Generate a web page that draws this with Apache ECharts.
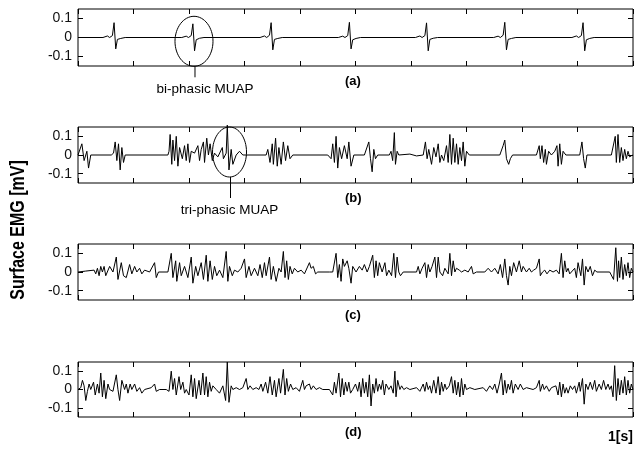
<!DOCTYPE html>
<html>
<head>
<meta charset="utf-8">
<script src="https://cdn.jsdelivr.net/npm/echarts@6/dist/echarts.min.js"></script>
<style>
  html, body { margin: 0; padding: 0; background: #fff; }
  #main { width: 641px; height: 450px; }
</style>
</head>
<body>
<div id="main"></div>
<script>
// time in ms (0..1000 = 1 s), amplitude in mV
const aT = [0, 45, 53, 57, 62, 65, 68, 71, 77, 85,
  187, 195, 199, 204, 207, 210, 213, 219, 227,
  328, 336, 340, 345, 348, 351, 354, 360, 368,
  469, 477, 481, 486, 489, 492, 495, 501, 509,
  608, 616, 620, 625, 628, 631, 634, 640, 648,
  749, 757, 761, 766, 769, 772, 775, 781, 789,
  890, 898, 902, 907, 910, 913, 916, 922, 930, 1000]
const aV = [0, 0, 0.008, 0, 0.01, 0.078, -0.06, -0.01, -0.005, 0,
  0, 0.007, 0, 0.01, 0.072, -0.07, -0.012, -0.004, 0,
  0, 0.008, 0, 0.012, 0.078, -0.065, -0.01, -0.005, 0,
  0, 0.007, 0, 0.01, 0.08, -0.06, -0.012, -0.005, 0,
  0, 0.008, 0, 0.01, 0.077, -0.07, -0.01, -0.004, 0,
  0, 0.007, 0, 0.012, 0.08, -0.065, -0.01, -0.005, 0,
  0, 0.008, 0, 0.01, 0.078, -0.07, -0.012, -0.005, 0, 0]

const bT = [0, 7, 11, 16, 19, 23, 60, 64, 67, 70, 73, 76, 79, 82, 85,
  162, 164, 166, 169, 171, 174, 177, 180, 183, 188, 192, 195, 198, 201, 204, 210, 216, 219, 222, 226, 228, 232, 235, 238, 242, 246,
  252, 260, 262, 267, 269, 272, 276, 279, 285, 291, 297,
  339, 342, 346, 350, 352, 356, 359, 362, 366, 370, 374, 378, 382, 387,
  450, 453, 456, 459, 462, 465, 468, 471, 475, 480, 485, 488, 492, 497,
  516, 519, 524, 527, 530, 533, 536, 540, 561, 564, 567, 570, 572, 575, 578, 598, 610,
  622, 626, 629, 632, 637, 641, 645, 649, 652, 655, 659, 664, 667, 670, 673, 676, 679, 682, 685, 688, 691, 694, 697, 700, 705,
  760, 763, 766, 769, 772, 776, 779, 783,
  826, 831, 833, 836, 839, 842, 844, 848, 853, 859, 863, 865, 868, 871, 874, 879,
  904, 908, 911, 914, 917, 961, 964, 968, 970, 973, 976, 979, 982, 985, 988, 991, 994, 999, 1000]
const bV = [0, 0.06, -0.03, 0.02, -0.07, 0, 0, 0.01, 0.07, -0.03, 0.06, -0.08, 0.04, -0.04, 0,
  0, 0.02, 0.11, -0.05, 0.08, -0.03, 0.1, -0.06, 0.04, -0.02, 0.05, -0.03, 0.06, -0.04, 0.02, 0.01, 0.05, -0.03, 0.03, 0.07, -0.04, 0.09, 0, 0.06, -0.03, 0.01,
  -0.01, 0.04, -0.02, 0.01, 0.16, -0.08, 0.03, -0.05, 0, 0.02, 0,
  0, 0.03, -0.04, 0.06, -0.05, 0.09, -0.06, 0.04, -0.05, 0.07, -0.03, 0.05, -0.02, 0,
  0, 0.01, -0.02, 0.06, -0.04, 0.1, -0.07, 0.04, -0.02, 0.05, -0.02, 0.07, -0.06, 0,
  0, 0.01, 0.07, -0.02, -0.09, 0.03, -0.02, 0, 0, 0.02, -0.03, 0.12, -0.05, 0.02, 0, 0.005, -0.005,
  0, 0.07, -0.02, 0.03, -0.05, 0.04, -0.01, 0.06, -0.04, 0, -0.03, 0.05, -0.04, 0.11, -0.05, 0.09, -0.04, 0.06, -0.05, 0.04, -0.03, 0.07, -0.06, 0.02, 0,
  0, 0.01, 0.05, 0.08, -0.02, -0.05, -0.02, 0,
  0, 0.05, -0.02, 0.05, -0.04, 0.03, -0.05, 0.02, 0, 0.02, 0.05, -0.06, 0.06, -0.05, 0.02, 0,
  0, 0.07, -0.02, -0.07, 0, 0, 0.01, 0.1, -0.04, 0.11, -0.04, 0.04, -0.03, 0.03, -0.02, 0.02, -0.01, 0, 0]

const cT = [0, 14, 29, 32, 35, 38, 41, 44, 47, 50, 57, 63, 69, 72, 78, 82, 87, 93, 97, 102, 106, 111, 115, 120, 129, 138, 141, 145,
  162, 168, 171, 176, 178, 183, 186, 192, 198, 204, 207, 212, 216, 222, 226, 231, 234, 238, 242, 246, 250, 255, 261, 267, 270, 273, 278, 282, 288, 294,
  300, 303, 308, 312, 318, 324, 328, 332, 336, 339, 345, 348, 352, 357, 362, 366, 370, 373, 376, 379, 382, 386, 390, 396, 402, 408, 417, 420, 424, 428, 432, 453,
  459, 465, 468, 471, 474, 477, 480, 485, 488, 492, 495, 501, 507, 512, 516, 521, 525, 531, 534, 537, 540, 543, 548, 553, 556, 560, 565, 569, 572, 575, 578, 581, 586,
  610, 613, 616, 620, 625, 628, 631, 634, 638, 643, 646, 649, 652, 657, 661, 667, 670, 673, 676, 679, 682, 687, 691, 697, 703, 709, 712, 718,
  733, 739, 745, 751, 757, 761, 765, 769, 772, 775, 778, 781, 785, 790, 795, 799, 802, 808, 813, 817, 821, 826, 831, 833, 837, 841, 845, 850, 856,
  862, 867, 871, 874, 877, 880, 883, 886, 889, 895, 898, 901, 906, 909, 912, 915, 919, 923, 927, 931, 935,
  958, 961, 965, 969, 972, 974, 976, 979, 982, 985, 988, 991, 994, 997, 1000]
const cV = [0, 0.005, 0.01, -0.01, 0.02, -0.02, 0.03, 0, 0.03, -0.02, 0.03, 0, 0.08, -0.04, 0.05, -0.02, -0.03, 0.04, -0.01, 0.03, 0, 0.02, -0.01, 0.01, 0, 0.05, -0.03, 0,
  0, 0.1, -0.03, 0.06, -0.05, 0.05, -0.02, 0.03, -0.03, 0.08, -0.06, 0.03, -0.02, 0.05, -0.04, 0.09, -0.05, 0.06, -0.04, 0.03, -0.02, 0.01, -0.03, 0.11, -0.05, 0.03, -0.02, 0.01, 0, 0.02,
  0.07, -0.03, 0.03, -0.02, 0.02, -0.02, 0.04, -0.03, 0.05, -0.02, 0.08, -0.04, 0.03, -0.05, 0.02, 0, 0.11, -0.03, 0.06, -0.04, 0.03, -0.01, 0.02, 0, 0.01, -0.01, 0.05, 0.02, 0.03, -0.01, 0, 0,
  0, 0.1, -0.03, 0.04, -0.05, 0.07, 0.03, 0.06, 0.02, -0.06, 0.03, 0, 0.03, 0.01, 0.04, 0, 0.03, 0.09, -0.03, 0.06, -0.02, 0.05, 0, 0.05, -0.02, 0.01, -0.02, 0.1, -0.03, 0.08, 0, -0.02, 0,
  0, 0.03, -0.01, 0.02, 0.05, -0.03, 0.04, 0, 0.03, 0.08, -0.03, 0.08, 0, -0.02, 0.02, -0.01, 0.1, -0.02, 0.06, 0, 0.02, 0.01, 0, 0.01, 0, 0.03, -0.01, 0,
  0, 0.02, 0, 0.02, -0.01, 0.04, -0.03, 0.07, -0.02, -0.07, 0.03, -0.02, 0.05, 0, 0.06, 0, 0.03, 0, 0.02, 0, 0.01, 0.02, 0.07, -0.02, 0, 0.01, -0.01, 0.01, 0,
  0.01, -0.01, 0.1, -0.03, 0.06, 0, 0.02, -0.01, 0, 0.02, -0.03, 0.05, -0.02, 0.07, -0.07, 0.03, 0, 0.03, -0.02, 0.01, 0,
  0, 0.01, -0.04, 0.13, -0.05, 0.06, -0.03, 0.08, -0.04, 0.04, -0.02, 0.05, -0.03, 0.02, 0]

const dT = [0, 2, 5, 8, 11, 14, 17, 20, 23, 28, 31, 35, 38, 41, 44, 47, 50, 54, 57, 63, 69, 72, 75, 79, 84, 87, 90, 94, 97, 102, 106, 111, 115, 120, 132, 138, 141, 147,
  159, 164, 168, 171, 174, 177, 182, 185, 189, 192, 195, 200, 204, 207, 210, 213, 218, 221, 225, 228, 231, 234, 237, 240, 243, 249, 255, 261, 266, 269, 272, 276, 279, 285, 291, 297,
  303, 306, 310, 315, 321, 326, 330, 333, 338, 342, 346, 350, 354, 357, 362, 365, 370, 373, 376, 379, 383, 387, 393, 399, 405, 408, 411, 417, 420, 424, 429, 435, 441, 453,
  456, 459, 462, 465, 470, 473, 476, 479, 482, 485, 488, 491, 495, 500, 504, 507, 510, 513, 516, 519, 522, 525, 528, 531, 534, 537, 540, 543, 546, 549, 552, 555, 560, 564, 568, 571, 573, 576, 580, 583, 587, 592, 598,
  610, 616, 622, 625, 628, 631, 634, 637, 641, 645, 649, 652, 655, 658, 661, 664, 669, 673, 676, 679, 682, 685, 688, 691, 694, 697, 700, 706, 715,
  730, 736, 742, 747, 751, 755, 759, 763, 766, 769, 772, 775, 778, 781, 784, 788, 793, 797, 802, 808, 820, 826, 831, 833, 837, 840, 844, 849, 853, 856,
  861, 865, 868, 871, 874, 877, 880, 883, 887, 891, 895, 898, 903, 905, 909, 912, 915, 919, 923, 927, 931, 934, 939, 943, 947, 951, 955, 958,
  961, 964, 967, 970, 973, 976, 979, 982, 985, 988, 991, 994, 997, 1000]
const dV = [0, 0, 0.01, 0.05, 0.02, -0.06, -0.01, 0.03, 0, 0.04, -0.03, 0.03, -0.02, 0.09, -0.04, 0.05, -0.05, 0.03, 0, -0.01, 0.08, 0, -0.06, 0.05, 0, 0.03, -0.02, 0.03, 0, 0.03, -0.01, 0.01, -0.02, 0, 0.01, 0.03, -0.01, 0,
  0, -0.01, 0.1, 0, 0.06, -0.03, 0.07, 0, 0.04, -0.02, 0, -0.03, 0.08, -0.04, 0.06, -0.05, 0.05, -0.03, 0.09, -0.03, 0.07, -0.04, 0.04, -0.01, 0.02, 0, -0.02, 0.02, -0.06, 0.15, -0.07, 0.02, 0, 0.01, 0, 0.01,
  0.06, 0, 0.02, 0, 0.01, 0, 0.03, -0.01, 0.04, -0.02, 0.07, -0.03, 0.05, -0.04, 0.06, -0.02, 0.11, -0.03, 0.06, -0.01, 0.03, 0, 0.01, -0.01, 0.05, 0, 0.02, 0.03, 0, 0.02, 0, 0.01, 0, 0,
  0.01, -0.03, 0.04, -0.02, 0.09, -0.04, 0.06, -0.03, 0.04, -0.01, 0.04, -0.02, 0, 0.03, -0.01, 0.04, -0.04, 0.06, -0.02, 0.04, -0.04, 0.08, -0.09, 0.03, -0.02, 0.06, -0.01, 0.03, 0, 0.05, -0.03, 0.03, 0, 0.02, -0.02, 0.1, -0.04, 0.05, 0, 0.02, 0, 0.01, 0,
  0.01, -0.01, 0.03, -0.01, 0.04, 0, 0.02, -0.02, 0.05, -0.02, 0.07, -0.03, 0.04, -0.01, 0.03, 0, 0.02, 0.07, -0.02, 0.05, -0.03, 0.04, -0.04, 0.06, -0.03, 0.03, 0, 0.01, 0,
  0.01, -0.01, 0.02, 0, 0.03, -0.02, 0.03, 0.09, -0.03, 0.05, -0.02, 0.03, 0, 0.05, -0.02, 0.03, 0, 0.03, 0, 0.01, 0, 0.01, 0.05, -0.01, 0.03, 0, 0.02, -0.01, 0.01, 0,
  0.02, -0.03, 0.04, -0.04, 0.03, -0.02, 0.01, -0.02, 0.02, 0, 0.02, -0.02, 0.04, -0.01, 0.06, -0.08, 0.03, 0, 0.04, 0, 0.05, -0.01, 0.03, 0, 0.05, 0, 0.03, 0,
  0.02, -0.04, 0.13, -0.06, 0.06, -0.03, 0.05, -0.02, 0.07, -0.03, 0.05, -0.02, 0.03, 0]

const panelNames = ['(a)', '(b)', '(c)', '(d)']
const yTicks = [-0.1, 0, 0.1]
// circled MUAPs: [panel, time ms, mV, label]
const notes = [
  [0, 209, -0.02, 'bi-phasic MUAP'],
  [1, 273, 0.016, 'tri-phasic MUAP']
]

const signals = [[aT, aV], [bT, bV], [cT, cV], [dT, dV]]
const tops = [9, 127, 244, 362]
const heights = [57, 56, 56, 55]
const font = 'Liberation Sans, Arial, sans-serif'

const grids = []
const xAxes = []
const yAxes = []
const series = []
signals.forEach((s, i) => {
  grids.push({
    left: 78, right: 8, top: tops[i], height: heights[i],
    show: true, borderColor: '#000', borderWidth: 1, backgroundColor: 'transparent'
  });
  ['bottom', 'top'].forEach(pos => {
    xAxes.push({
      type: 'value', gridIndex: i, position: pos, min: 0, max: 1000, interval: 100,
      axisLine: { show: false, onZero: false },
      axisTick: { show: true, inside: true, length: 5, lineStyle: { color: '#000' } },
      axisLabel: { show: false },
      splitLine: { show: false }
    })
  });
  ['left', 'right'].forEach(pos => {
    yAxes.push({
      type: 'value', gridIndex: i, position: pos, min: -0.15, max: 0.15,
      axisLine: { show: false, onZero: false },
      axisTick: { show: true, inside: true, length: 5, customValues: yTicks, lineStyle: { color: '#000' } },
      axisLabel: {
        show: pos === 'left', customValues: yTicks, margin: 6,
        fontFamily: font, fontSize: 14, color: '#111',
        formatter: v => String(Math.round(v * 10) / 10)
      },
      splitLine: { show: false }
    })
  })
  series.push({
    type: 'line',
    xAxisIndex: i * 2, yAxisIndex: i * 2,
    data: s[0].map((t, k) => [t, s[1][k]]),
    symbol: 'none', clip: false, animation: false,
    lineStyle: { color: '#000', width: 1 }
  })
})

const chart = echarts.init(document.getElementById('main'))
chart.setOption({
  animation: false,
  grid: grids,
  xAxis: xAxes,
  yAxis: yAxes,
  series: series
})

const graphic = []
panelNames.forEach((name, i) => {
  graphic.push({
    type: 'text', left: 345, top: tops[i] + heights[i] + 9,
    style: { text: name, font: 'bold 13px ' + font, fill: '#000' }
  })
})
graphic.push({
  type: 'text', left: 608, top: 430,
  style: { text: '1[s]', font: 'bold 14px ' + font, fill: '#000' }
})
graphic.push({
  type: 'text', x: 18, y: 230, rotation: Math.PI / 2, scaleY: 1.25,
  style: { text: 'Surface EMG [mV]', font: 'bold 16px ' + font, fill: '#000', align: 'center', verticalAlign: 'middle' }
})
notes.forEach(n => {
  const p = chart.convertToPixel({ xAxisIndex: n[0] * 2, yAxisIndex: n[0] * 2 }, [n[1], n[2]])
  const ry = 25
  graphic.push({
    type: 'ellipse',
    shape: { cx: p[0], cy: p[1], rx: n[0] === 0 ? 19 : 17, ry: ry },
    style: { fill: 'none', stroke: '#000', lineWidth: 1 }
  })
  const gap = n[0] === 0 ? 11 : 21
  graphic.push({
    type: 'line',
    shape: { x1: p[0] + 1, y1: p[1] + ry, x2: p[0] + 1, y2: p[1] + ry + gap },
    style: { stroke: '#000', lineWidth: 1 }
  })
  graphic.push({
    type: 'text', x: p[0] + (n[0] === 0 ? 11 : 0), y: p[1] + ry + gap + 12,
    style: { text: n[3], font: '13.5px ' + font, fill: '#000', align: 'center', verticalAlign: 'middle' }
  })
})
chart.setOption({ graphic: graphic })
</script>
</body>
</html>
